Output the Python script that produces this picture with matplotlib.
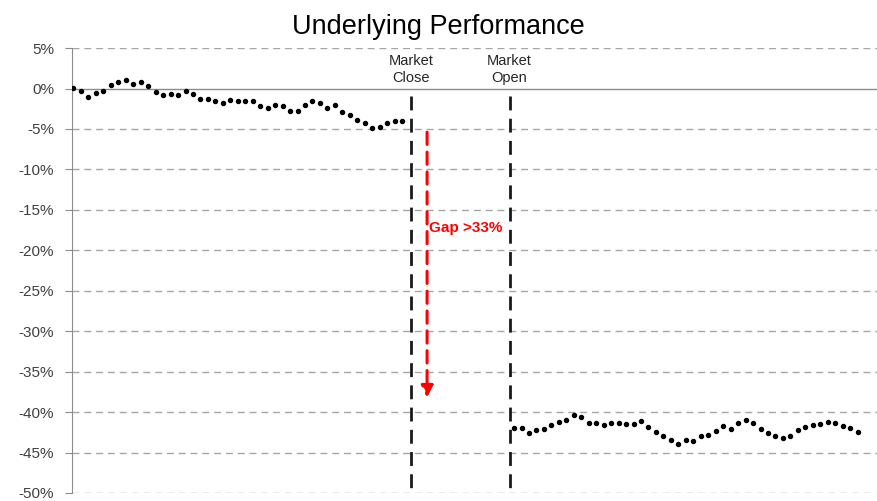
import matplotlib
matplotlib.use("Agg")
import matplotlib.pyplot as plt
import numpy as np

plt.rcParams['font.family'] = ['Liberation Sans', 'DejaVu Sans']

title = "Underlying Performance"
before_close = [0.1, -0.3, -1.1, -0.6, -0.3, 0.4, 0.8, 1.0, 0.5, 0.8, 0.3, -0.4, -0.8, -0.7, -0.8,
                -0.3, -0.7, -1.3, -1.3, -1.6, -1.8, -1.4, -1.6, -1.6, -1.5, -2.1, -2.4, -2.0, -2.2, -2.8,
                -2.8, -2.0, -1.6, -1.8, -2.4, -2.0, -2.9, -3.3, -3.9, -4.2, -4.9, -4.7, -4.2, -4.0, -4.0]
after_open = [-42.0, -42.0, -42.6, -42.2, -42.1, -41.6, -41.2, -41.0, -40.4, -40.6, -41.3, -41.4,
              -41.6, -41.3, -41.3, -41.5, -41.5, -41.1, -41.8, -42.5, -42.9, -43.5, -44.0, -43.4,
              -43.6, -42.9, -42.8, -42.3, -41.7, -42.1, -41.3, -41.0, -41.3, -42.1, -42.6, -43.0,
              -43.2, -42.9, -42.2, -41.8, -41.6, -41.5, -41.2, -41.3, -41.7, -42.0, -42.5]
close_pos = 45.2
open_pos = 58.4
open_start = 59
gap_from, gap_to = -5.4, -38.2
gap_label = "Gap >33%"
yticks = list(range(5, -55, -5))
ytick_labels = [f"{t}%" for t in yticks]

fig = plt.figure(figsize=(8.77, 5.01), dpi=100)
ax = fig.add_axes([0.0821, 0.016, 0.9179, 0.888])

x_before = np.arange(len(before_close))
x_after = np.arange(open_start, open_start + len(after_open))

ax.set_xlim(-0.2, 107.6)
ax.set_ylim(-50, 5)

for t in yticks:
    if t != 0:
        ax.axhline(t, color='#a6a6a6', lw=1.0, ls=(0, (5, 3.5)), zorder=1)
ax.axhline(0, color='#8c8c8c', lw=1.0, zorder=2)

ax.plot(x_before, before_close, ls='none', marker='o', ms=2.9, color='black', zorder=4)
ax.plot(x_after, after_open, ls='none', marker='o', ms=2.9, color='black', zorder=4)

for xp, lab in [(close_pos, "Market\nClose"), (open_pos, "Market\nOpen")]:
    ax.plot([xp, xp], [-0.9, -50], color='#1a1a1a', lw=2.0, ls=(0, (5, 3)), zorder=3)
    ax.text(xp, 2.4, lab, ha='center', va='center', fontsize=10.5, color='#262626',
            linespacing=1.25)

gap_x = 47.35
ax.annotate('', xy=(gap_x, gap_to), xytext=(gap_x, gap_from),
            arrowprops=dict(arrowstyle='-|>,head_length=0.7,head_width=0.35', color='#ff0000',
                            lw=2.2, ls=(0, (4, 2.5)), shrinkA=0, shrinkB=0), zorder=5)
ax.text(gap_x + 0.2, -17.2, gap_label, color='#ff0000', fontsize=11, fontweight='bold',
        ha='left', va='center', zorder=6)

ax.set_yticks(yticks)
ax.set_yticklabels(ytick_labels, fontsize=11, color='#404040')
ax.set_xticks([])
for s in ['top', 'right', 'bottom']:
    ax.spines[s].set_visible(False)
ax.spines['left'].set_color('#8c8c8c')
ax.tick_params(axis='y', length=5, color='#8c8c8c', pad=8)

fig.text(0.5, 0.947, title, ha='center', va='center', fontsize=19.5, color='black')

fig.savefig('out.png', dpi=100)
